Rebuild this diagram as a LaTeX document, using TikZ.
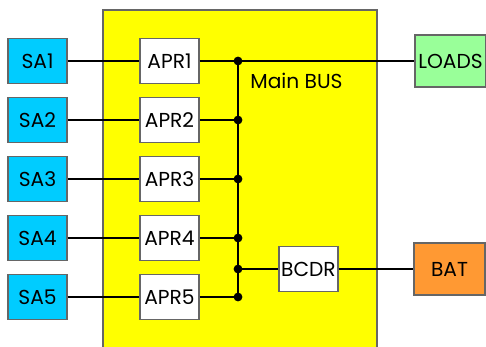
\documentclass[tikz,border=0pt]{standalone}
\usepackage{fontspec}
\setmainfont{Poppins}
\usepackage{tikz}
\usetikzlibrary{calc, positioning}

\definecolor{sablue}{RGB}{0,204,255}
\definecolor{loadgreen}{RGB}{153,255,153}
\definecolor{batorange}{RGB}{255,153,51}
\definecolor{busyellow}{RGB}{255,255,0}

\begin{document}
\begin{tikzpicture}[
    x=0.02cm, y=-0.02cm,
    unit/.style={draw=gray!80!black, line width=0.6pt, minimum width=1.18cm, minimum height=0.9cm, inner sep=0pt, font=\fontsize{11.5}{13}\selectfont},
    panel/.style={unit, fill=sablue},
    conv/.style={unit, fill=white},
    sink/.style={unit, minimum width=1.42cm, minimum height=1.04cm},
    wire/.style={line width=1.2pt, black},
    junction/.style={circle, fill=black, inner sep=0pt, minimum size=5pt}
]
\useasboundingbox (0,0) rectangle (486,347);

% Power conditioning unit (open at the bottom)
\fill[busyellow] (103,10) rectangle (377,350);
\draw[gray!80!black, line width=0.6pt] (103,350) -- (103,10) -- (377,10) -- (377,350);

% Solar arrays and their regulators
\foreach \i in {1,...,5} {
    \node[panel] (sa\i)  at (37.5, 2+59*\i) {SA\i};
    \node[conv]  (apr\i) at (169.5, 2+59*\i) {APR\i};
    \draw[wire] (sa\i) -- (apr\i);
}

% Main bus
\coordinate (bus1) at (238,61);
\coordinate (bus5) at (238,297);
\coordinate (busb) at (238,269);
\draw[wire] (bus1) -- (bus5);
\node[font=\fontsize{11.5}{13}\selectfont, anchor=west, inner sep=0pt] (buslabel) at (250,81) {Main BUS};

\foreach \i in {2,...,5} {
    \draw[wire] (apr\i) -- (apr\i -| bus1);
    \node[junction] at (apr\i -| bus1) {};
}

% Loads and battery
\node[sink, fill=loadgreen] (loads) at (450.5,61) {LOADS};
\node[conv] (bcdr) at (308.5,269) {BCDR};
\node[sink, fill=batorange] (bat) at (449.5,269) {BAT};

\draw[wire] (apr1) -- (loads);
\node[junction] at (bus1) {};
\draw[wire] (busb) -- (bcdr);
\node[junction] at (busb) {};
\draw[wire] (bcdr) -- (bat);

\end{tikzpicture}
\end{document}
